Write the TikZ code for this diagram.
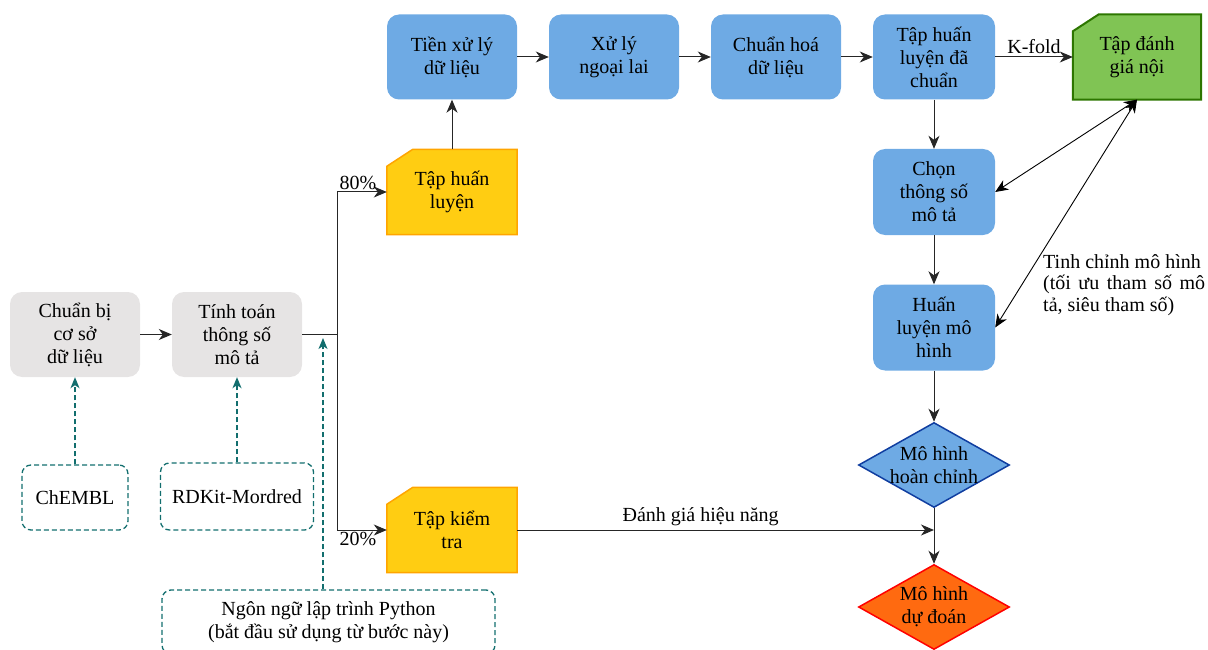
\documentclass[tikz,border=0pt]{standalone}
\usepackage{fontspec}
\setmainfont{Liberation Serif}
\usepackage{xcolor}
\usepackage{tikz}
\usetikzlibrary{arrows.meta,shapes.geometric,backgrounds}
\definecolor{boxgrey}{RGB}{230,228,228}
\definecolor{boxblue}{RGB}{110,170,228}
\definecolor{cardyellow}{RGB}{255,205,18}
\definecolor{cardorange}{RGB}{255,165,0}
\definecolor{cardgreen}{RGB}{128,196,84}
\definecolor{edgegreen}{RGB}{45,118,0}
\definecolor{predorange}{RGB}{255,106,16}
\definecolor{edgeblue}{RGB}{16,62,160}
\definecolor{pyteal}{RGB}{18,110,110}
\tikzset{base text/.style={font=\fontsize{20}{23}\selectfont,align=center,inner sep=0pt},
	grey box/.style={base text,fill=boxgrey,rounded corners=12pt,minimum width=130pt,minimum height=85pt},
	blue box/.style={base text,fill=boxblue,rounded corners=12pt,minimum width=130pt,minimum height=85pt},
	card/.style={base text,minimum width=130pt,minimum height=85pt},
	yellow card/.style={fill=cardyellow,draw=cardorange,line width=1.5pt},
	green card/.style={fill=cardgreen,draw=edgegreen,line width=2pt},
	tool box/.style={base text,draw=pyteal,dash pattern=on 5pt off 3pt,line width=1.3pt,rounded corners=9pt},
	model diamond/.style={shape=diamond,inner sep=0pt,minimum width=151pt,minimum height=85pt,line width=1.5pt},
	flow/.style={-{Stealth[length=13pt,width=11pt,inset=4pt]},draw=black!85,line width=1pt},
	both flow/.style={{Stealth[length=13pt,width=11pt,inset=4pt]}-{Stealth[length=13pt,width=11pt,inset=4pt]},line width=0.9pt},
	dash flow/.style={-{Stealth[length=11pt,width=9pt,inset=3pt]},draw=pyteal,dash pattern=on 5pt off 3pt,line width=1.3pt}}
% card outline with a cut corner, behind the node text
\newcommand{\drawcard}[2]{%
	\begin{scope}[on background layer]
		\filldraw[#2] ([yshift=-17pt]#1.north west) -- ([xshift=26pt]#1.north west) -- (#1.north east)
			-- (#1.south east) -- (#1.south west) -- cycle;
	\end{scope}}

\begin{document}
\begin{tikzpicture}[x=1pt,y=-1pt]
	\useasboundingbox (0,0) rectangle (1208,650);
	% left part
	\node[grey box] (prep) at (75,334.5) {Chuẩn bị\\cơ sở\\dữ liệu};
	\node[grey box] (calc) at (237,334.5) {Tính toán\\thông số\\mô tả};
	\node[tool box,minimum width=106pt,minimum height=65pt] (chembl) at (75,497.5) {ChEMBL};
	\node[tool box,minimum width=153pt,minimum height=67pt] (rdkit) at (237,496.5) {RDKit-Mordred};
	\node[tool box,minimum width=333pt,minimum height=64pt] (python) at (328.5,622) {Ngôn ngữ lập trình Python\\(bắt đầu sử dụng từ bước này)};
	\coordinate (split) at (337,334.5);
	\coordinate (pytip) at (323,338);
	% data sets
	\node[card] (train) at (452,192) {Tập huấn\\luyện};
	\drawcard{train}{yellow card}
	\node[card] (test) at (452,530) {Tập kiểm\\tra};
	\drawcard{test}{yellow card}
	% top row
	\node[blue box] (clean) at (452,57) {Tiền xử lý\\dữ liệu};
	\node[blue box] (outlier) at (614,57) {Xử lý\\ngoại lai};
	\node[blue box] (scale) at (776,57) {Chuẩn hoá\\dữ liệu};
	\node[blue box,minimum width=122pt] (scaled) at (934,57) {Tập huấn\\luyện đã\\chuẩn};
	\node[card,minimum width=128pt] (inner) at (1137,57) {Tập đánh\\giá nội};
	\drawcard{inner}{green card}
	% model column
	\node[blue box,minimum width=122pt,minimum height=86pt] (select) at (934,192) {Chọn\\thông số\\mô tả};
	\node[blue box,minimum width=122pt,minimum height=86pt] (fit) at (934,327.5) {Huấn\\luyện mô\\hình};
	\node[model diamond,fill=boxblue,draw=edgeblue,label={[base text]center:Mô hình\\hoàn chỉnh}] (final) at (934,465) {};
	\node[model diamond,fill=predorange,draw=red,label={[base text]center:Mô hình\\dự đoán}] (predict) at (934,607) {};
	\node[base text,font=\fontsize{20}{21.5}\selectfont,align=left,anchor=north west] (tune) at (1043,254)
		{Tinh chỉnh mô hình\\\makebox[162pt][s]{(tối ưu tham số mô}\\tả, siêu tham số)};
	% connectors
	\draw[flow] (prep) -- (calc);
	\draw[draw=black!85,line width=1pt] (calc) -- (split);
	\draw[flow] (split) |- (train) node[pos=0.5,above right,base text,inner sep=2pt] {80\%};
	\draw[flow] (split) |- (test) node[pos=0.5,below right,base text,inner sep=2pt] {20\%};
	\draw[flow] (train) -- (clean);
	\draw[flow] (clean) -- (outlier);
	\draw[flow] (outlier) -- (scale);
	\draw[flow] (scale) -- (scaled);
	\draw[flow] (scaled) -- node[above,base text,inner sep=3pt] {K-fold} (inner);
	\draw[flow] (scaled) -- (select);
	\draw[flow] (select) -- (fit);
	\draw[flow] (fit) -- (final);
	\draw[flow] (final) -- (predict);
	\draw[flow] (test) -- (test -| final) node[pos=0.44,above,base text,inner sep=4pt] {Đánh giá hiệu năng};
	\draw[both flow] (inner.south) -- (select.east);
	\draw[both flow] (inner.south) -- (fit.east);
	\draw[dash flow] (chembl) -- (prep);
	\draw[dash flow] (rdkit) -- (calc);
	\draw[dash flow] (python.north -| pytip) -- (pytip);
\end{tikzpicture}
\end{document}
